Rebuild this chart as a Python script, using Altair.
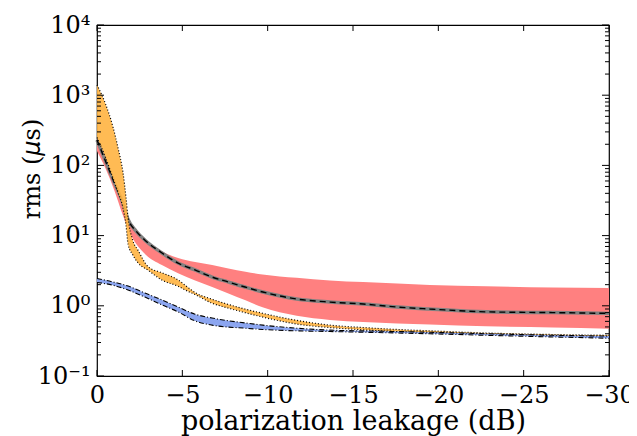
import altair as alt
import pandas as pd

# ---------------- data ----------------
red_x = [0, -0.5, -1.0, -1.5, -2.0, -2.8, -3.8, -4.75, -5.75, -6.75, -7.7, -8.7, -9.7,
         -11.7, -13.65, -15.6, -17.6, -19.5, -22.8, -26.7, -30]
red_hi = [240, 120, 60, 30, 15, 9.0, 6.0, 4.8, 4.2, 3.8, 3.4, 3.05, 2.8,
          2.5, 2.3, 2.18, 2.08, 1.98, 1.9, 1.83, 1.8]
red_lo = [160, 90, 45, 20, 10, 5.5, 3.8, 2.9, 2.3, 1.85, 1.5, 1.2, 0.95,
          0.72, 0.63, 0.59, 0.56, 0.54, 0.51, 0.49, 0.47]

gray_x = [0, -0.5, -1.0, -1.5, -1.82, -2.3, -2.81, -3.81, -4.75, -5.74, -6.74, -7.67, -8.67,
          -9.72, -11.7, -13.65, -15.6, -17.6, -19.5, -22.8, -26.7, -30]
gray_y = [230, 115, 58, 30, 17, 11.5, 8.6, 5.65, 4.07, 3.24, 2.57, 2.19, 1.85,
          1.57, 1.25, 1.13, 1.06, 0.96, 0.90, 0.82, 0.80, 0.78]

orange_x = [0, -0.5, -0.94, -1.25, -1.52, -1.7, -1.82, -2.1, -2.4, -3.0, -3.8, -4.75, -5.3, -5.74,
            -6.7, -7.67, -8.67, -9.72, -11.7, -13.65, -15.6, -17.6, -19.5, -22.8, -26.7, -30]
orange_hi = [1400, 750, 350, 170, 80, 35, 18, 8.5, 6.2, 3.6, 2.95, 2.34, 1.85, 1.55,
             1.25, 1.05, 0.9, 0.78, 0.62, 0.53, 0.49, 0.46, 0.44, 0.41, 0.39, 0.38]
orange_lo = [250, 130, 65, 40, 25, 14, 7.5, 5.3, 4.1, 3.2, 2.33, 1.9, 1.62, 1.45,
             1.1, 0.93, 0.8, 0.69, 0.55, 0.49, 0.455, 0.43, 0.415, 0.395, 0.375, 0.365]

blue_x = [0, -0.88, -1.82, -2.81, -3.81, -4.75, -5.74, -6.74, -8.67, -9.72, -11.7,
          -13.65, -15.6, -19.5, -22.8, -26.7, -30]
blue_hi = [2.45, 2.2, 1.91, 1.52, 1.21, 0.96, 0.76, 0.67, 0.57, 0.53, 0.48,
           0.45, 0.44, 0.42, 0.40, 0.38, 0.37]
blue_lo = [2.15, 1.98, 1.68, 1.33, 1.03, 0.82, 0.61, 0.53, 0.48, 0.46, 0.44,
           0.43, 0.42, 0.40, 0.38, 0.36, 0.345]

x_ticks = [0, -5, -10, -15, -20, -25, -30]
y_ticks = [0.1, 1, 10, 100, 1000, 10000]
y_minor = [m * d for d in [0.1, 1, 10, 100, 1000] for m in range(2, 10)]

# y title pieces: "rms (" + italic "μ" + "s)"
ytitle_parts = ["rms (", "\u03bc", "s)"]

# ---------------- layout ----------------
W, H = 512, 351
FONT = "DejaVu Serif"
RED, ORANGE, BLUE = "#ff8080", "#ffb545", "#8ca6f0"

red_df = pd.DataFrame({"x": red_x, "lo": red_lo, "hi": red_hi})
gray_df = pd.DataFrame({"x": gray_x, "y": gray_y})
orange_df = pd.DataFrame({"x": orange_x, "lo": orange_lo, "hi": orange_hi})
blue_df = pd.DataFrame({"x": blue_x, "lo": blue_lo, "hi": blue_hi})
xt_df = pd.DataFrame({"x": x_ticks})
yt_df = pd.DataFrame({"y": y_ticks})
ym_df = pd.DataFrame({"y": y_minor})

xs = alt.Scale(domain=[0, -30], nice=False, zero=False)
ys = alt.Scale(type="log", domain=[0.1, 10000], nice=False)

x_axis = alt.Axis(
    values=x_ticks, ticks=False, domain=False, grid=False,
    labelExpr="datum.value == 0 ? '0' : '\u2212' + abs(datum.value)",
    labelFont=FONT, labelFontSize=24, labelColor="black", labelPadding=7,
    labelOverlap=False, labelFlush=False,
    title="polarization leakage (dB)", titleFont=FONT, titleFontSize=27,
    titleFontWeight="normal", titleColor="black",
    titleX=W / 2, titleY=53, titleBaseline="alphabetic", titleAnchor="middle",
)
y_axis = alt.Axis(
    values=y_ticks, ticks=False, domain=False, grid=False,
    labelExpr="datum.value < 0.5 ? '10\u207b\u00b9' : datum.value < 5 ? '10\u2070' : datum.value < 50 ? '10\u00b9' : datum.value < 500 ? '10\u00b2' : datum.value < 5000 ? '10\u00b3' : '10\u2074'",
    labelFont=FONT, labelFontSize=24, labelColor="black", labelPadding=7,
    labelOverlap=False, labelFlush=False,
    title="",
)


def X(f):
    return alt.X(f, type="quantitative", scale=xs, axis=x_axis)


def Y(f):
    return alt.Y(f, type="quantitative", scale=ys, axis=y_axis)


red = alt.Chart(red_df).mark_area(color=RED, interpolate="monotone").encode(
    x=X("x"), y=Y("lo"), y2="hi")

gray = alt.Chart(gray_df).mark_line(color="#808080", strokeWidth=3.5, interpolate="monotone").encode(
    x=X("x"), y=Y("y"))
gray_dash = alt.Chart(gray_df).mark_line(color="black", strokeWidth=1.4, strokeDash=[6, 4],
                                         interpolate="monotone").encode(x=X("x"), y=Y("y"))

orange = alt.Chart(orange_df).mark_area(color=ORANGE, opacity=0.92, interpolate="monotone").encode(
    x=X("x"), y=Y("lo"), y2="hi")
orange_lo_l = alt.Chart(orange_df).mark_line(color="black", strokeWidth=1.2, strokeDash=[1, 2],
                                             interpolate="monotone").encode(x=X("x"), y=Y("lo"))
orange_hi_l = alt.Chart(orange_df).mark_line(color="black", strokeWidth=1.2, strokeDash=[1, 2],
                                             interpolate="monotone").encode(x=X("x"), y=Y("hi"))

blue = alt.Chart(blue_df).mark_area(color=BLUE, interpolate="monotone").encode(
    x=X("x"), y=Y("lo"), y2="hi")
blue_lo_l = alt.Chart(blue_df).mark_line(color="black", strokeWidth=1.1, strokeDash=[5, 2, 1, 2],
                                         interpolate="monotone").encode(x=X("x"), y=Y("lo"))
blue_hi_l = alt.Chart(blue_df).mark_line(color="black", strokeWidth=1.1, strokeDash=[5, 2, 1, 2],
                                         interpolate="monotone").encode(x=X("x"), y=Y("hi"))

# inward ticks on all four sides (matplotlib classic style)
tick_color = "black"
xb = alt.Chart(xt_df).mark_rule(color=tick_color, strokeWidth=1).encode(
    x=X("x"), y=alt.value(H), y2=alt.value(H - 6))
xtop = alt.Chart(xt_df).mark_rule(color=tick_color, strokeWidth=1).encode(
    x=X("x"), y=alt.value(0), y2=alt.value(6))
yl = alt.Chart(yt_df).mark_rule(color=tick_color, strokeWidth=1).encode(
    y=Y("y"), x=alt.value(0), x2=alt.value(7))
yr = alt.Chart(yt_df).mark_rule(color=tick_color, strokeWidth=1).encode(
    y=Y("y"), x=alt.value(W), x2=alt.value(W - 7))
yml = alt.Chart(ym_df).mark_rule(color=tick_color, strokeWidth=1).encode(
    y=Y("y"), x=alt.value(0), x2=alt.value(4))
ymr = alt.Chart(ym_df).mark_rule(color=tick_color, strokeWidth=1).encode(
    y=Y("y"), x=alt.value(W), x2=alt.value(W - 4))

# y-axis title with an italic mu, written bottom-to-top
TS = 24
TX = -64
TYC = 144  # vertical centre of the title
w1 = TS * (0.478 + 0.948 + 0.513 + 0.318 + 0.390)
w2 = TS * 0.636
w3 = TS * (0.513 + 0.390)
y_start = TYC + (w1 + w2 + w3) / 2
one = pd.DataFrame({"k": [0]})
t1 = alt.Chart(one).mark_text(text=ytitle_parts[0], font=FONT, fontSize=TS, angle=270,
                              align="left", baseline="middle", color="black").encode(
    x=alt.value(TX), y=alt.value(y_start))
t2 = alt.Chart(one).mark_text(text=ytitle_parts[1], font="DejaVu Sans", fontStyle="italic",
                              fontSize=TS, angle=270, align="left", baseline="middle",
                              color="black").encode(
    x=alt.value(TX), y=alt.value(y_start - w1))
t3 = alt.Chart(one).mark_text(text=ytitle_parts[2], font=FONT, fontSize=TS, angle=270,
                              align="left", baseline="middle", color="black").encode(
    x=alt.value(TX), y=alt.value(y_start - w1 - w2))

chart = alt.layer(
    red, gray, gray_dash, orange, orange_lo_l, orange_hi_l,
    blue, blue_lo_l, blue_hi_l,
    xb, xtop, yl, yr, yml, ymr, t1, t2, t3,
).properties(
    width=W, height=H,
    autosize=alt.AutoSizeParams(type="none"),
    padding={"left": 89, "top": 17, "right": 20, "bottom": 60},
    background="white",
).configure_view(stroke="black", strokeWidth=1.2)

chart.save("out.html", embed_options={"renderer": "svg", "actions": False})
